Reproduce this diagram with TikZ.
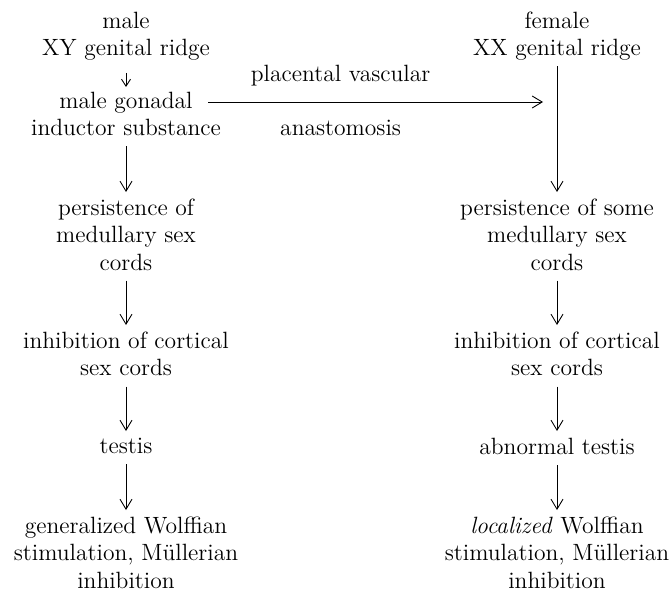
\documentclass[tikz,border=0pt]{standalone}
\usepackage{fontspec}
\usetikzlibrary{arrows.meta}

\begin{document}
\begin{tikzpicture}[x=0.02cm,y=-0.02cm,
    txt/.style={font=\fontsize{13.4}{15.4}\selectfont},
    stage/.style={txt,align=center,anchor=north,inner sep=0pt},
    flow/.style={-{Straight Barb[length=2mm,width=2.4mm]},line width=0.5pt,
      shorten <=0.2cm,shorten >=0.14cm}]
  \useasboundingbox (0,0) rectangle (672,591);
  % male side
  \node[stage] (xy) at (126,12) {male\\XY genital ridge};
  \node[stage] (inductor) at (126,92) {male gonadal\\inductor substance};
  \node[stage] (xypersist) at (126,199) {persistence of\\medullary sex\\cords};
  \node[stage] (xyinhib) at (126,332) {inhibition of cortical\\sex cords};
  \node[stage] (testis) at (126,438) {testis};
  \node[stage] (xyduct) at (126,517) {generalized Wolffian\\stimulation, Müllerian\\inhibition};
  % female side
  \node[stage] (xx) at (557,12) {female\\XX genital ridge};
  \node[stage] (xxpersist) at (557,199) {persistence of some\\medullary sex\\cords};
  \node[stage] (xxinhib) at (557,332) {inhibition of cortical\\sex cords};
  \node[stage] (abtestis) at (557,438) {abnormal testis};
  \node[stage] (xxduct) at (557,517) {\textit{localized} Wolffian\\stimulation, Müllerian\\inhibition};

  \draw[flow,-{Straight Barb[length=1.4mm,width=1.8mm]},shorten <=0.24cm,shorten >=0.1cm]
    (xy) -- (inductor);
  \draw[flow] (inductor) -- (xypersist);
  \draw[flow] (xypersist) -- (xyinhib);
  \draw[flow] (xyinhib) -- (testis);
  \draw[flow] (testis) -- (xyduct);

  \draw[flow,shorten <=0.1cm] (xx) -- (xxpersist);
  \draw[flow] (xxpersist) -- (xxinhib);
  \draw[flow] (xxinhib) -- (abtestis);
  \draw[flow] (abtestis) -- (xxduct);

  % cross-over to the XX twin
  \coordinate (anast) at (208,102);
  \draw[flow,shorten <=0pt,shorten >=0.28cm] (anast) -- (anast -| xxpersist)
    node[txt,pos=0.38,yshift=0.52cm] {placental vascular}
    node[txt,pos=0.38,yshift=-0.52cm] {anastomosis};
\end{tikzpicture}
\end{document}
